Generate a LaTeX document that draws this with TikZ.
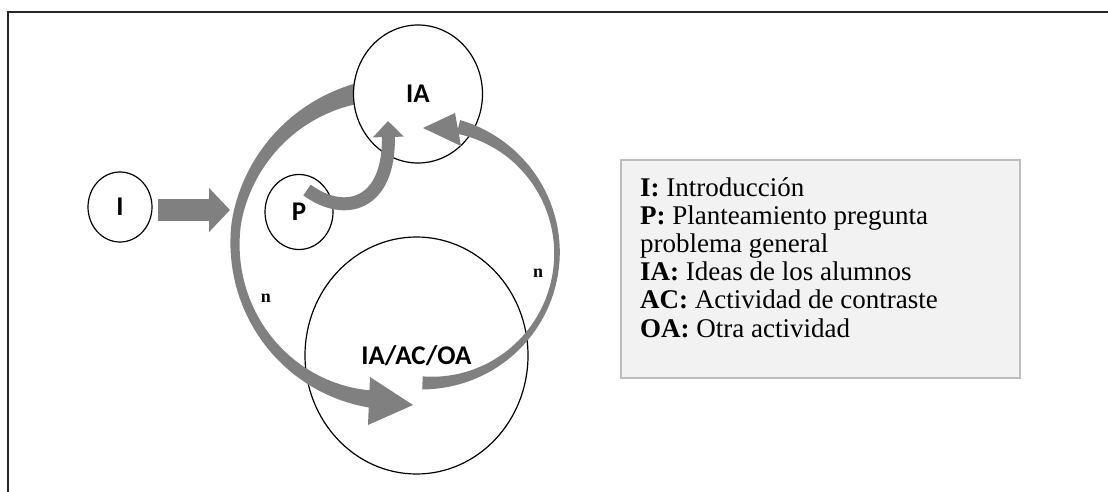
\documentclass[tikz,border=0pt]{standalone}
\usepackage{fontspec}
\setmainfont{Liberation Serif}
\newfontfamily\calibri{Carlito}
\usepackage{tikz}
\usetikzlibrary{arrows.meta,shapes.geometric}
\definecolor{arrowgray}{HTML}{808080}
\definecolor{legendfill}{HTML}{F2F2F2}
\definecolor{legendline}{HTML}{BDBDBD}
\tikzset{
  stage/.style={ellipse, draw, line width=1.2pt, inner sep=0pt, fill=white,
    font={\calibri\bfseries\fontsize{27}{30}\selectfont}},
  repeat/.style={font={\bfseries\fontsize{18}{20}\selectfont}},
  bigarrow/.style={arrowgray, line width=22pt, -{Triangle[length=21pt,width=43pt]}},
  legendbox/.style={draw=legendline, fill=legendfill, line width=1.8pt, inner sep=0pt},
  legendline/.style={anchor=base west, inner sep=0pt, font={\fontsize{27}{28}\selectfont}},
  declare function={rl(\t)=161-0.11*max(0,\t-170);
    wl(\t)=0.001583*(\t-185)*(\t-185)-0.01083*(\t-185)+9;
    wr(\t)=0.00114*(\t-371)*(\t-371)+0.04945*(\t-371)+6;}
}
\begin{document}
\begin{tikzpicture}[x=1pt, y=-1pt]
		\useasboundingbox (0,0) rectangle (1108,492);
		%Marco
		\draw[line width=2pt, black!85] (8,492) -- (8,12) -- (1108,12);
		%Ciclo grande
		\node[stage, fill=none, minimum width=223, minimum height=237] (IAACOA) at (416.5,355.5) {IA/AC/OA};
		%Flecha izquierda (IA -> IA/AC/OA)
		\fill[arrowgray] plot[variable=\t, domain=100:261, samples=60]
			({395+(rl(\t)+0.5*wl(\t))*cos(\t)}, {250-(rl(\t)+0.5*wl(\t))*sin(\t)})
			-- plot[variable=\t, domain=261:100, samples=60]
			({395+(rl(\t)-0.5*wl(\t))*cos(\t)}, {250-(rl(\t)-0.5*wl(\t))*sin(\t)}) -- cycle;
		\fill[arrowgray] (370,377) -- (413,405) -- (368,425) -- cycle;
		%Nodos
		\node[stage, minimum width=64, minimum height=70] (I) at (120,207) {I};
		\node[stage, minimum width=129, minimum height=138] (IA) at (418,94) {IA};
		\node[stage, minimum width=68, minimum height=75] (P) at (299,212) {P};
		%Flecha derecha (IA/AC/OA -> IA)
		\fill[arrowgray] plot[variable=\t, domain=268:436, samples=60]
			({427+(130+0.5*wr(\t))*cos(\t)}, {253-(130+0.5*wr(\t))*sin(\t)})
			-- plot[variable=\t, domain=436:268, samples=60]
			({427+(130-0.5*wr(\t))*cos(\t)}, {253-(130-0.5*wr(\t))*sin(\t)}) -- cycle;
		\fill[arrowgray] (455,113) -- (423,128) -- (461,146) -- cycle;
		%Flecha P -> IA
		\coordinate (pstart) at (307,190);
		\coordinate (ptip) at (388,121);
		\draw[arrowgray, line width=13pt, -{Triangle[length=16pt,width=30pt]}]
			(pstart) .. controls (345,218) and (390,205) .. (ptip);
		%Flecha I -> ciclo
		\coordinate (ientry) at (230,210);
		\draw[bigarrow, shorten <=5pt] (I.east |- ientry) -- (ientry);
		%Repeticiones
		\node[repeat] (nleft) at (266,298) {n};
		\node[repeat] (nright) at (538,273) {n};
		%Leyenda
		\node[legendbox, minimum width=399, minimum height=218] (legend) at (820.5,269) {};
		\foreach \k/\txt in {0/{\textbf{I:} Introducción},
				1/{\textbf{P:} Planteamiento pregunta},
				2/{problema general},
				3/{\textbf{IA:} Ideas de los alumnos},
				4/{\textbf{AC:} Actividad de contraste},
				5/{\textbf{OA:} Otra actividad}}
			\node[legendline] (leg\k) at (640,196+28.2*\k) {\txt};
	\end{tikzpicture}
\end{document}
